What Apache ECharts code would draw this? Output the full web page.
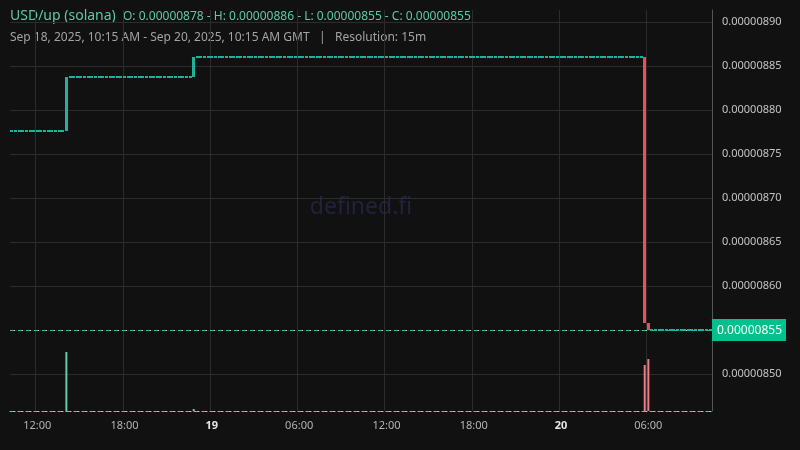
<!DOCTYPE html>
<html>
<head>
<meta charset="utf-8">
<script src="https://cdn.jsdelivr.net/npm/echarts@6/dist/echarts.min.js"></script>
<style>
html,body{margin:0;padding:0;background:#111111;}
#c{width:800px;height:450px;}
</style>
</head>
<body>
<div id="c"></div>
<script>
// 15-minute candles, Sep 18 2025 10:15 -> Sep 20 2025 10:15 (GMT)
const startTime = Date.UTC(2025, 8, 18, 10, 15);
const stepMs = 15 * 60 * 1000;
const candleCount = 193;

// Close prices in units of 1e-8 USD
const closesE8 = [
  877.6,877.6,877.6,877.6,877.6,877.6,877.6,877.6,877.6,877.6,
  877.6,877.6,877.6,877.6,877.6,883.75,883.75,883.75,883.75,883.75,
  883.75,883.75,883.75,883.75,883.75,883.75,883.75,883.75,883.75,883.75,
  883.75,883.75,883.75,883.75,883.75,883.75,883.75,883.75,883.75,883.75,
  883.75,883.75,883.75,883.75,883.75,883.75,883.75,883.75,883.75,883.75,
  886,886,886,886,886,886,886,886,886,886,
  886,886,886,886,886,886,886,886,886,886,
  886,886,886,886,886,886,886,886,886,886,
  886,886,886,886,886,886,886,886,886,886,
  886,886,886,886,886,886,886,886,886,886,
  886,886,886,886,886,886,886,886,886,886,
  886,886,886,886,886,886,886,886,886,886,
  886,886,886,886,886,886,886,886,886,886,
  886,886,886,886,886,886,886,886,886,886,
  886,886,886,886,886,886,886,886,886,886,
  886,886,886,886,886,886,886,886,886,886,
  886,886,886,886,886,886,886,886,886,886,
  886,886,886,886,855.8,855,855,855,855,855,
  855,855,855,855,855,855,855,855,855,855,
  855,855,855
];
const firstOpenE8 = 877.6;

// Volumes (relative units)
const volumes = [
  0,0,0,0,0,0,0,0,0,0,
  0,0,0,0,0,59,0,0,0,0,
  0,0,0,0,0,0,0,0,0,0,
  0,0,0,0,0,0,0,0,0,0,
  0,0,0,0,0,0,0,0,0,0,
  2,0,0,0,0,0,0,0,0,0,
  0,0,0,0,0,0,0,0,0,0,
  0,0,0,0,0,0,0,0,0,0,
  0,0,0,0,0,0,0,0,0,0,
  0,0,0,0,0,0,0,0,0,0,
  0,0,0,0,0,0,0,0,0,0,
  0,0,0,0,0,0,0,0,0,0,
  0,0,0,0,0,0,0,0,0,0,
  0,0,0,0,0,0,0,0,0,0,
  0,0,0,0,0,0,0,0,0,0,
  0,0,0,0,0,0,0,0,0,0,
  0,0,0,0,0,0,0,0,0,0,
  0,0,0,0,46,52,0,0,0,0,
  0,0,0,0,0,0,0,0,0,0,
  0,0,0
];

const lastPriceE8 = 855;
const titleText = 'USD/up (solana)';
const ohlcText = 'O: 0.00000878 - H: 0.00000886 - L: 0.00000855 - C: 0.00000855';
const subText = 'Sep 18, 2025, 10:15 AM - Sep 20, 2025, 10:15 AM GMT   |   Resolution: 15m';

const UP = '#1db39a', DOWN = '#f24b5b';
const VOL_UP = '#5ccfae', VOL_DOWN = '#f07a86';

const pad = n => (n < 10 ? '0' : '') + n;
const categories = [];
for (let i = 0; i < candleCount; i++) {
  const d = new Date(startTime + i * stepMs);
  categories.push(d.getUTCFullYear() + '-' + pad(d.getUTCMonth() + 1) + '-' + pad(d.getUTCDate()) + ' ' + pad(d.getUTCHours()) + ':' + pad(d.getUTCMinutes()));
}

// [index, open, close]
const candleData = closesE8.map((c, i) => [i, i === 0 ? firstOpenE8 : closesE8[i - 1], c]);
const volData = volumes.map((v, i) => ({
  value: v,
  itemStyle: { color: candleData[i][2] < candleData[i][1] ? VOL_DOWN : VOL_UP }
}));

const showTick = (idx, val) => {
  const hm = (typeof val === 'string' ? val : categories[idx]).slice(11);
  return hm === '00:00' || hm === '06:00' || hm === '12:00' || hm === '18:00';
};

function renderCandle(params, api) {
  const idx = api.value(0);
  const o = api.value(1), c = api.value(2);
  const p1 = api.coord([idx, o]);
  const p2 = api.coord([idx, c]);
  const w = 3;
  const x = Math.round(p1[0] - w / 2);
  const y1 = Math.min(p1[1], p2[1]);
  const y2 = Math.max(p1[1], p2[1]);
  let top = Math.round(y1);
  let h = Math.round(y2) - top;
  if (h < 2) { top = Math.round(y1 - 1); h = 2; }
  const color = c < o ? DOWN : UP;
  return {
    type: 'rect',
    shape: { x: x, y: top, width: w, height: h },
    style: { fill: color, stroke: null, opacity: 1 }
  };
}

const chart = echarts.init(document.getElementById('c'), null, { renderer: 'canvas' });
chart.setOption({
  backgroundColor: '#111111',
  animation: false,
  textStyle: { fontFamily: 'Noto Sans' },
  grid: [
    { left: 10, right: 88, top: 10, bottom: 39, outerBoundsMode: 'none' },
    { left: 10, right: 88, top: 311, bottom: 39, outerBoundsMode: 'none' }
  ],
  xAxis: [
    {
      type: 'category', gridIndex: 0, data: categories, boundaryGap: true,
      axisLine: { show: true, lineStyle: { color: '#cfcfcf', type: [1, 3], width: 1 } },
      axisTick: { show: false },
      axisLabel: {
        interval: showTick, margin: 9, fontSize: 11, color: '#b4b4b4',
        formatter: v => {
          const hm = v.slice(11);
          if (hm === '00:00') return '{d|' + parseInt(v.slice(8, 10), 10) + '}';
          return hm;
        },
        rich: { d: { fontWeight: 'bold', color: '#e6e6e6', fontSize: 11 } }
      },
      splitLine: { show: true, interval: showTick, lineStyle: { color: '#2c2c2c', width: 1 } }
    },
    {
      type: 'category', gridIndex: 1, data: categories, boundaryGap: true,
      axisLine: { show: false }, axisTick: { show: false }, axisLabel: { show: false }, splitLine: { show: false }
    }
  ],
  yAxis: [
    {
      type: 'value', gridIndex: 0, position: 'right', min: 845.8, max: 891.4, scale: true,
      splitNumber: 9,
      axisLine: { show: true, lineStyle: { color: '#555555' } },
      axisTick: { show: false },
      axisLabel: {
        margin: 10, fontSize: 11, color: '#c4c4c4',
        showMinLabel: false, showMaxLabel: false,
        formatter: v => (v * 1e-8).toFixed(8)
      },
      splitLine: { show: true, showMinLine: false, showMaxLine: false, lineStyle: { color: '#2c2c2c', width: 1 } }
    },
    {
      type: 'value', gridIndex: 1, min: 0, max: 100, show: false,
      splitLine: { show: false }
    }
  ],
  graphic: [
    { type: 'text', left: 10, top: 9, style: { text: titleText, fill: '#5cc9a7', font: '14px "Noto Sans"' } },
    { type: 'text', left: 123, top: 11, style: { text: ohlcText, fill: '#5cc9a7', font: '12px "Noto Sans"' } },
    { type: 'text', left: 10, top: 32, style: { text: subText, fill: '#a3a3a3', font: '12px "Noto Sans"' } },
    { type: 'text', x: 361, y: 207, z: 0, style: { text: 'defined.fi', fill: '#22223f', font: '23px "Noto Sans"', textAlign: 'center', textVerticalAlign: 'middle' } }
  ],
  series: [
    {
      type: 'bar', xAxisIndex: 1, yAxisIndex: 1, data: volData, barWidth: 2,
      silent: true,
      markLine: {
        silent: true, symbol: 'none',
        data: [{ yAxis: 0 }],
        label: { show: false },
        lineStyle: { color: '#5cc9a7', type: [4, 4], width: 1 }
      }
    },
    {
      type: 'line', xAxisIndex: 0, yAxisIndex: 0, data: [], silent: true,
      symbol: 'none', showSymbol: false, lineStyle: { width: 0, color: 'rgba(0,0,0,0)' },
      markLine: {
        silent: true, symbol: 'none', animation: false,
        data: [
          {
            yAxis: lastPriceE8,
            lineStyle: { color: '#d0d0d0', type: [1, 3], width: 1 },
            label: {
              show: true, position: 'end', distance: 0,
              formatter: () => (lastPriceE8 * 1e-8).toFixed(8),
              backgroundColor: '#05c08d', color: '#effff9', fontSize: 12,
              padding: [4, 4, 4, 5], lineHeight: 14
            }
          },
          {
            yAxis: lastPriceE8,
            lineStyle: { color: '#3fb796', type: [4, 4], width: 1 },
            label: { show: false }
          }
        ]
      }
    },
    {
      type: 'custom', xAxisIndex: 0, yAxisIndex: 0, data: candleData,
      encode: { x: 0, y: [1, 2] },
      renderItem: renderCandle, silent: true, z: 5
    }
  ]
});
</script>
</body>
</html>
